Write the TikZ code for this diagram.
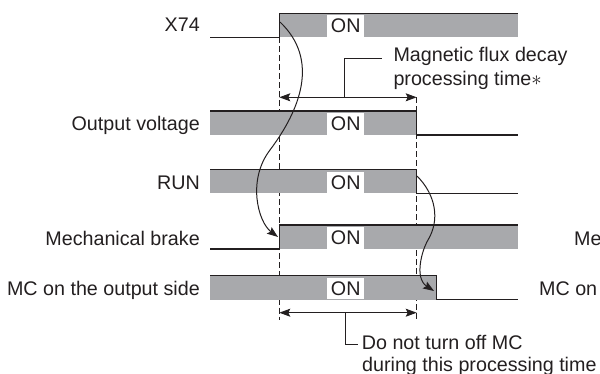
\documentclass[tikz,border=0pt]{standalone}
\usepackage{fontspec}
\setmainfont{Liberation Sans}
\usetikzlibrary{arrows.meta}
\definecolor{ink}{RGB}{35,31,32}
\definecolor{bargray}{RGB}{168,169,172}
\begin{document}
\begin{tikzpicture}[x=1pt,y=-1pt,
  every node/.style={font=\fontsize{19.7}{24}\selectfont, text=ink, inner sep=0pt},
  sig/.style={draw=ink, line width=1.1pt},
  barfill/.style={fill=bargray},
  onbox/.style={fill=white, minimum width=36.5pt, minimum height=21.5pt, anchor=south},
  guide/.style={draw=ink, line width=0.9pt, dash pattern=on 6pt off 3pt},
  tipa/.tip={Stealth[length=11pt,width=8pt,inset=2pt]},
  dim/.style={draw=ink, line width=1pt, tipa-tipa},
  brk/.style={draw=ink, line width=1pt},
  cause/.style={draw=ink, line width=1pt, -tipa},
  lbl/.style={anchor=base east},
  note/.style={anchor=base west}]
\useasboundingbox (0,0) rectangle (600,374);

% guide lines
\coordinate (g1t) at (279.3,37.5);
\coordinate (g1b) at (279.3,320);
\coordinate (g2t) at (416.7,97.3);
\coordinate (g2b) at (416.7,322);
\draw[guide] (g1t) -- (g1b);
\draw[guide] (g2t) -- (g2b);

% X74
\fill[barfill] (279.3,13.5) rectangle (518,37.5);
\draw[sig] (210,37.5) -- (279.3,37.5) -- (279.3,13.5) -- (518,13.5);
\node[onbox] (on1) at (345.7,37) {ON};
\node[lbl] (l1) at (200,32) {X74};

% Output voltage
\fill[barfill] (210,111) rectangle (416.7,135);
\draw[sig] (210,111) -- (416.7,111) -- (416.7,135) -- (518,135);
\node[onbox] (on2) at (345.7,135) {ON};
\node[lbl] (l2) at (200,131) {Output voltage};

% RUN
\fill[barfill] (210,169.5) rectangle (416.7,193.5);
\draw[sig] (210,169.5) -- (416.7,169.5) -- (416.7,193.5) -- (518,193.5);
\node[onbox] (on3) at (345.7,193.5) {ON};
\node[lbl] (l3) at (200,189.5) {RUN};

% Mechanical brake
\fill[barfill] (279.3,225) rectangle (518,249);
\draw[sig] (210,249) -- (279.3,249) -- (279.3,225) -- (518,225);
\node[onbox] (on4) at (345.7,249) {ON};
\node[lbl] (l4) at (200,246) {Mechanical brake};
\node[note] (r4) at (574,246) {Me};

% MC on the output side
\fill[barfill] (210,275.5) rectangle (436.3,299.5);
\draw[sig] (210,275.5) -- (436.3,275.5) -- (436.3,299.5) -- (518,299.5);
\node[onbox] (on5) at (345.7,299.5) {ON};
\node[lbl] (l5) at (200,295) {MC on the output side};
\node[note] (r5) at (539,295) {MC on};

% magnetic flux decay time
\coordinate (d1l) at (279.3,97.3);
\coordinate (d1r) at (416.7,97.3);
\draw[dim] (d1l) -- (d1r);
\coordinate (b1a) at (344.5,97.3);
\coordinate (b1b) at (344.5,58.3);
\coordinate (b1c) at (381.7,58.3);
\draw[brk] (b1a) -- (b1b) -- (b1c);
\node[note] (t1) at (393.3,62) {Magnetic flux decay};
\node[note] (t2) at (393.3,85.5) {processing time$\ast$};

% do not turn off MC
\coordinate (d2l) at (279.3,312.7);
\coordinate (d2r) at (416.7,312.7);
\draw[dim] (d2l) -- (d2r);
\coordinate (b2a) at (345,312.7);
\coordinate (b2b) at (345,344);
\coordinate (b2c) at (358,344);
\draw[brk] (b2a) -- (b2b) -- (b2c);
\node[note] (t3) at (361.7,349.5) {Do not turn off MC};
\node[note] (t4) at (362,371.5) {during this processing time};

% cause arrows
\coordinate (c1s) at (280,22);
\coordinate (c1m) at (270,150);
\coordinate (c1e) at (278,237);
\draw[cause] (c1s) .. controls (320,60) and (300,110) .. (c1m)
  .. controls (247,180) and (258,222) .. (c1e);
\coordinate (c2s) at (417,176);
\coordinate (c2m) at (428,240);
\coordinate (c2e) at (434,291);
\draw[cause] (c2s) .. controls (436,195) and (440,220) .. (c2m)
  .. controls (422,250) and (414,278) .. (c2e);
\end{tikzpicture}
\end{document}
